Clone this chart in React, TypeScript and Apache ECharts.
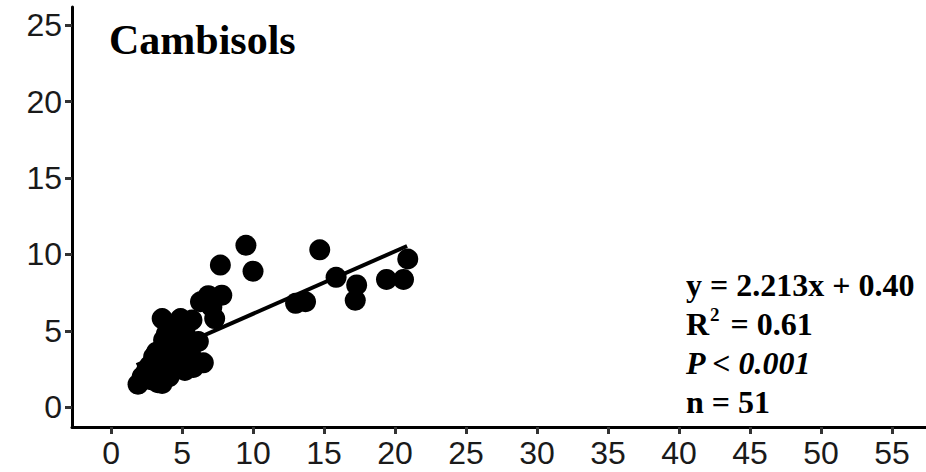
import React, { useEffect, useRef } from "react";
import * as echarts from "echarts";

const pointsX = [
  9.5, 7.7, 10.0, 14.7, 15.85, 17.3, 17.2, 19.4, 20.6, 20.9, 13.0, 13.7,
  7.8, 6.85, 6.3, 7.1, 7.3,
  3.6, 4.9, 5.7, 4.3, 5.2, 3.9, 6.15, 3.7, 4.4, 5.1, 4.8, 3.2, 3.9, 3.0, 4.6, 5.6, 6.5, 5.2,
  1.9, 3.6, 2.5, 3.4, 2.8, 4.2, 4.0, 3.5, 2.2, 3.3, 4.5, 5.8, 2.7, 4.1, 5.0, 3.0,
];
const pointsY = [
  10.6, 9.3, 8.9, 10.3, 8.5, 8.0, 7.0, 8.36, 8.36, 9.7, 6.8, 6.9,
  7.33, 7.3, 6.9, 6.55, 5.8,
  5.8, 5.8, 5.7, 5.3, 5.0, 4.8, 4.3, 4.4, 4.2, 3.95, 4.5, 3.6, 3.1, 2.9, 3.3, 3.5, 2.9, 2.4,
  1.5, 1.55, 2.4, 2.2, 1.8, 2.6, 3.7, 3.0, 2.0, 1.6, 2.9, 2.6, 2.7, 2.0, 4.8, 3.3,
];
const fitX = [1.8, 20.85];
const fitY = [2.76, 10.55];
const xTicks = [0, 5, 10, 15, 20, 25, 30, 35, 40, 45, 50, 55];
const yTicks = [0, 5, 10, 15, 20, 25];
const title = "Cambisols";
const statLines = ["y = 2.213x + 0.40", "R2 = 0.61", "P < 0.001", "n = 51"];

export default function App() {
  const ref = useRef<HTMLDivElement>(null);
  useEffect(() => {
    if (!ref.current) return;
    const chart = echarts.init(ref.current, undefined, { renderer: "svg" });
    const scatterData = pointsX.map((x, i) => [x, pointsY[i]]);
    const lineData = fitX.map((x, i) => [x, fitY[i]]);
    const serif = "'Liberation Serif', 'Times New Roman', serif";
    const sans = "'Liberation Sans', Arial, sans-serif";
    const tickStyle = { color: "#333", width: 3 };
    chart.setOption({
      animation: false,
      backgroundColor: "#fff",
      grid: { left: 72, right: 0, top: 7, bottom: 45, containLabel: false },
      xAxis: {
        type: "value",
        min: -2.75,
        max: 57.4,
        splitLine: { show: false },
        axisLine: { show: true, onZero: false, lineStyle: { color: "#000", width: 3 } },
        axisTick: { show: true, length: 7, lineStyle: tickStyle, customValues: xTicks },
        axisLabel: {
          customValues: xTicks,
          color: "#1a1a1a",
          fontSize: 32,
          fontFamily: sans,
          margin: 10,
        },
      },
      yAxis: {
        type: "value",
        min: -1.3,
        max: 26.2,
        splitLine: { show: false },
        axisLine: { show: true, onZero: false, lineStyle: { color: "#000", width: 3 } },
        axisTick: { show: true, length: 7, lineStyle: tickStyle, customValues: yTicks },
        axisLabel: {
          customValues: yTicks,
          color: "#1a1a1a",
          fontSize: 32,
          fontFamily: sans,
          margin: 10,
        },
      },
      series: [
        {
          type: "scatter",
          data: scatterData,
          symbol: "circle",
          symbolSize: 21,
          itemStyle: { color: "#000", opacity: 1 },
          z: 2,
        },
        {
          type: "line",
          data: lineData,
          showSymbol: false,
          symbol: "none",
          lineStyle: { color: "#000", width: 4 },
          z: 3,
        },
      ],
      graphic: [
        {
          type: "text",
          left: 109,
          top: 19,
          style: {
            text: title,
            font: `bold 42px ${serif}`,
            fill: "#000",
          },
        },
        {
          type: "text",
          left: 686,
          top: 269,
          style: {
            text: `{b|y = 2.213x + 0.40}\n{b|R}{sup|2}{b| = 0.61}\n{i|${statLines[2]}}\n{b|${statLines[3]}}`,
            rich: {
              b: { font: `bold 32px ${serif}`, fill: "#000", lineHeight: 39 },
              sup: { font: `bold 19px ${serif}`, fill: "#000", lineHeight: 39, verticalAlign: "top", padding: [0, 3, 12, 1] },
              i: { font: `italic bold 32px ${serif}`, fill: "#000", lineHeight: 39 },
            },
          },
        },
      ],
    });
    return () => chart.dispose();
  }, []);
  return <div ref={ref} style={{ width: 926, height: 472, position: "absolute", left: 0, top: 0 }} />;
}
